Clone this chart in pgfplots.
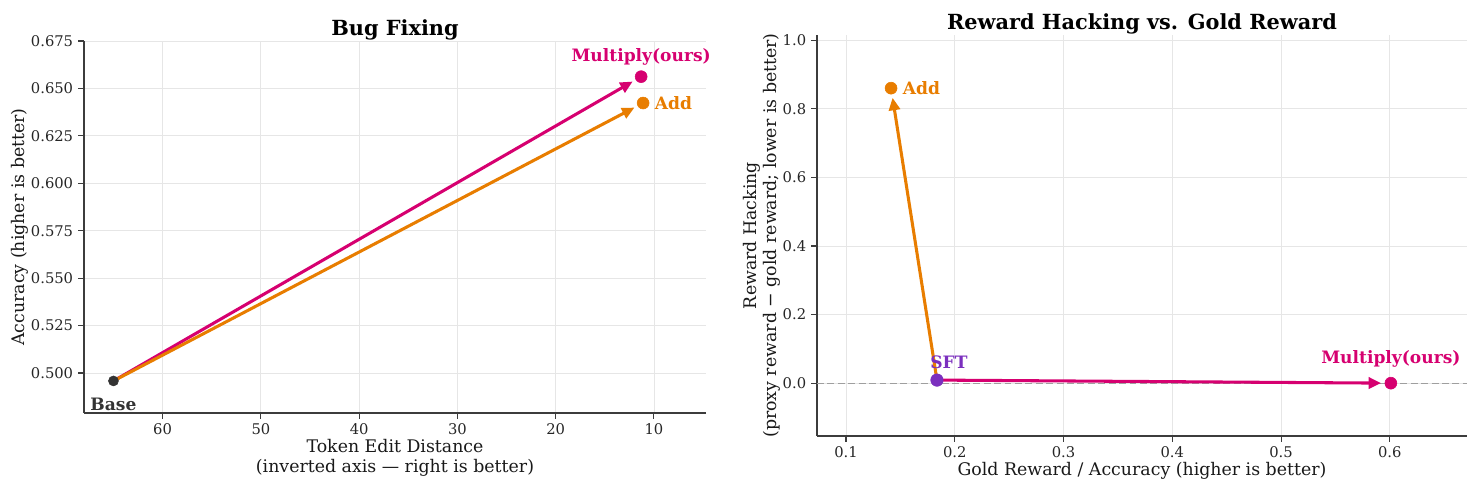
\documentclass[border=0pt]{standalone}
\usepackage{pgfplots}
\pgfplotsset{compat=1.18}
\usepackage{fontspec}
\setmainfont{DejaVu Serif}
\usetikzlibrary{arrows.meta}

\definecolor{multc}{RGB}{214,0,112}
\definecolor{addc}{RGB}{232,125,0}
\definecolor{sftc}{RGB}{123,47,190}
\definecolor{basec}{RGB}{51,51,51}
\definecolor{gridc}{RGB}{230,230,230}
\definecolor{spinec}{RGB}{60,60,60}

\tikzset{
  arr/.style={line width=2.2pt, -{Triangle[length=9pt,width=8pt]}, shorten >=7pt},
  lbl/.style={font=\bfseries\fontsize{12.3}{14}\selectfont},
}

\pgfplotsset{
  panel/.style={
    scale only axis,
    axis lines*=left,
    axis line style={spinec, line width=0.9pt},
    tick align=outside,
    major tick length=4.3pt,
    every tick/.style={spinec, line width=0.8pt},
    grid=major,
    major grid style={gridc, line width=0.6pt},
    tick label style={font=\fontsize{10.6}{12}\selectfont, text=black!85},
    /pgf/number format/assume math mode=true,
    label style={font=\fontsize{12.5}{14}\selectfont, text=black!90},
    title style={font=\bfseries\fontsize{15}{17}\selectfont, at={(0.5,1)}, anchor=south, yshift=-9pt},
    clip=false,
  },
}

\begin{document}
\begin{tikzpicture}
\useasboundingbox (0,0) rectangle (1064.88pt,355.68pt);

% Bug fixing: edit distance vs accuracy
\begin{axis}[panel,
  at={(60.48pt,58.32pt)}, anchor=south west,
  width=447.84pt, height=267.84pt,
  x dir=reverse,
  xmin=4.7, xmax=68.0, ymin=0.4789, ymax=0.675,
  xtick={10,20,30,40,50,60},
  ytick={0.500,0.525,0.550,0.575,0.600,0.625,0.650,0.675},
  yticklabel style={/pgf/number format/.cd, fixed, fixed zerofill, precision=3},
  title={Bug Fixing},
  xlabel={Token Edit Distance\\(inverted axis — right is better)},
  xlabel style={align=center, at={(axis description cs:0.5,-0.12)}, anchor=center},
  ylabel={Accuracy (higher is better)},
  ylabel style={at={(axis description cs:-0.103,0.5)}, anchor=center},
]
\addplot[multc, arr] coordinates {(65,0.4958) (11.3,0.6562)};
\addplot[addc, arr] coordinates {(65,0.4958) (11.1,0.6423)};
\addplot[only marks, mark=*, mark size=3.6pt, basec] coordinates {(65,0.4958)};
\addplot[only marks, mark=*, mark size=4.3pt, multc] coordinates {(11.3,0.6562)};
\addplot[only marks, mark=*, mark size=4.3pt, addc] coordinates {(11.1,0.6423)};
\node[lbl, text=multc, yshift=14.4pt] at (axis cs:11.3,0.6562) {Multiply(ours)};
\node[lbl, text=addc, anchor=west, xshift=5pt] at (axis cs:11.1,0.6423) {Add};
\node[lbl, text=basec, yshift=-16.6pt] at (axis cs:65,0.4958) {Base};
\end{axis}

% Reward hacking vs gold reward
\begin{axis}[panel,
  at={(588.24pt,41.76pt)}, anchor=south west,
  width=468pt, height=288.72pt,
  xmin=0.0733, xmax=0.671, ymin=-0.154, ymax=1.015,
  xtick={0.1,0.2,0.3,0.4,0.5,0.6},
  ytick={0,0.2,0.4,0.6,0.8,1.0},
  xticklabel style={/pgf/number format/.cd, fixed, fixed zerofill, precision=1},
  yticklabel style={/pgf/number format/.cd, fixed, fixed zerofill, precision=1},
  title={Reward Hacking vs. Gold Reward},
  xlabel={Gold Reward / Accuracy (higher is better)},
  xlabel style={at={(axis description cs:0.5,-0.087)}, anchor=center},
  ylabel={Reward Hacking\\(proxy reward − gold reward; lower is better)},
  ylabel style={align=center, at={(axis description cs:-0.0846,0.5)}, anchor=center},
]
\addplot[gray!75, dash pattern=on 5pt off 2.5pt, line width=0.9pt] coordinates {(0.0733,0) (0.671,0)};
\addplot[addc, arr] coordinates {(0.1836,0.009) (0.1414,0.860)};
\addplot[multc, arr] coordinates {(0.1836,0.009) (0.601,0.0)};
\addplot[only marks, mark=*, mark size=4.5pt, sftc] coordinates {(0.1836,0.009)};
\addplot[only marks, mark=*, mark size=4.3pt, addc] coordinates {(0.1414,0.860)};
\addplot[only marks, mark=*, mark size=4.3pt, multc] coordinates {(0.601,0.0)};
\node[lbl, text=addc, anchor=west, xshift=5pt] at (axis cs:0.1414,0.860) {Add};
\node[lbl, text=sftc, xshift=8.6pt, yshift=13pt] at (axis cs:0.1836,0.009) {SFT};
\node[lbl, text=multc, yshift=17.3pt] at (axis cs:0.601,0.0) {Multiply(ours)};
\end{axis}
\end{tikzpicture}
\end{document}
